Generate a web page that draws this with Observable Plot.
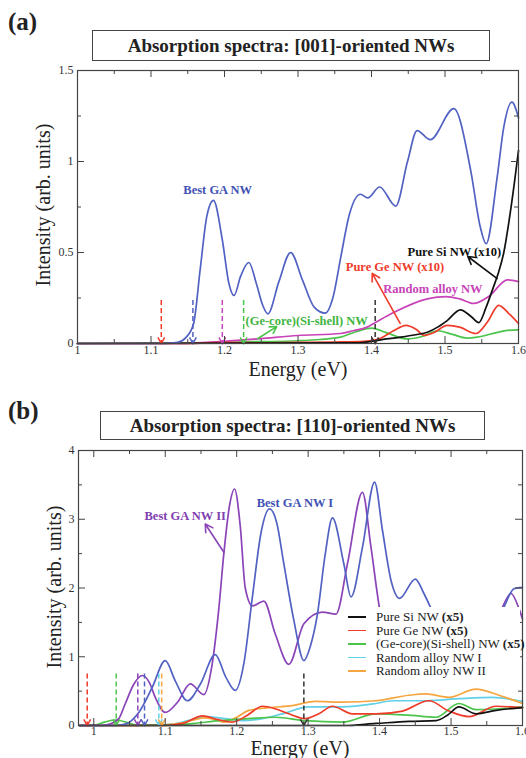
<!DOCTYPE html>
<html><head><meta charset="utf-8">
<script src="https://cdn.jsdelivr.net/npm/d3@7"></script>
<script src="https://cdn.jsdelivr.net/npm/@observablehq/plot@0.6"></script>
<style>
html,body{margin:0;padding:0;background:#fff;}
#root{position:relative;width:526px;height:758px;overflow:hidden;font-family:"Liberation Serif","Times New Roman",serif;color:#222;}
.abs{position:absolute;}
.abs svg{display:block;}
.plabel{font-weight:bold;font-size:25px;line-height:1;}
.tbox{border:1.5px solid #444;font-weight:bold;font-size:19px;box-sizing:border-box;display:flex;align-items:center;justify-content:center;white-space:nowrap;}
.xt{font-size:20px;line-height:1;transform:translate(-50%,-50%);white-space:nowrap;}
.yt{font-size:20px;line-height:1;transform:translate(-50%,-50%) rotate(-90deg);white-space:nowrap;}
.legend{background:#fff;font-size:13px;line-height:13.5px;padding-top:3px;box-sizing:border-box;}
.legend .row{position:relative;height:13.5px;white-space:nowrap;}
.legend .sw{position:absolute;left:3px;top:6px;width:18px;height:1.5px;}
.legend .tx{position:absolute;left:31px;top:0;}
</style></head>
<body><div id="root">
  <div class="abs plabel" style="left:8px;top:9px">(a)</div>
  <div class="abs tbox" style="left:92px;top:30px;width:398px;height:31px">Absorption spectra: [001]-oriented NWs</div>
  <div class="abs" id="panelA" style="left:0;top:50px"></div>
  <div class="abs xt" style="left:298px;top:369px">Energy (eV)</div>
  <div class="abs yt" style="left:43px;top:205px">Intensity (arb. units)</div>

  <div class="abs plabel" style="left:8px;top:398px">(b)</div>
  <div class="abs tbox" style="left:100px;top:411px;width:385px;height:29px">Absorption spectra: [110]-oriented NWs</div>
  <div class="abs" id="panelB" style="left:0;top:440px"></div>
  <div class="abs xt" style="left:300px;top:748px">Energy (eV)</div>
  <div class="abs yt" style="left:54px;top:587px">Intensity (arb. units)</div>
  <div class="abs legend" id="legendB" style="left:345px;top:607px;width:175px;height:76px"></div>
</div>
<script>
// ================= Panel (a): [001]-oriented NWs =================
const aXTicks = [1, 1.1, 1.2, 1.3, 1.4, 1.5, 1.6];
const aXMinor = [1.05, 1.15, 1.25, 1.35, 1.45, 1.55];
const aYTicks = [0, 0.5, 1, 1.5];
const aYMinor = [0.25, 0.75, 1.25];

const aBestGA = [[1.0,0],[1.12,0],[1.136,0.006],[1.148,0.035],[1.158,0.11],[1.167,0.41],[1.176,0.70],[1.185,0.786],[1.197,0.57],[1.206,0.33],[1.213,0.264],[1.222,0.37],[1.233,0.445],[1.244,0.32],[1.252,0.21],[1.259,0.163],[1.274,0.34],[1.290,0.50],[1.306,0.35],[1.322,0.2],[1.337,0.167],[1.348,0.26],[1.358,0.47],[1.370,0.71],[1.385,0.82],[1.395,0.80],[1.411,0.86],[1.433,0.755],[1.449,1.0],[1.462,1.17],[1.480,1.12],[1.512,1.29],[1.535,0.95],[1.548,0.64],[1.556,0.548],[1.571,0.914],[1.580,1.19],[1.591,1.326],[1.6,1.24]];
const aPureSi = [[1.0,0],[1.38,0.003],[1.40,0.012],[1.42,0.025],[1.44,0.035],[1.46,0.048],[1.476,0.062],[1.49,0.09],[1.503,0.126],[1.521,0.185],[1.535,0.15],[1.546,0.115],[1.556,0.2],[1.565,0.3],[1.572,0.38],[1.58,0.5],[1.587,0.67],[1.594,0.87],[1.6,1.06]];
const aPureGe = [[1.0,0],[1.15,0],[1.2,0.006],[1.25,0.004],[1.3,0.006],[1.35,0.008],[1.39,0.012],[1.41,0.025],[1.43,0.07],[1.447,0.10],[1.46,0.08],[1.472,0.045],[1.485,0.06],[1.503,0.10],[1.52,0.09],[1.542,0.055],[1.558,0.12],[1.573,0.21],[1.588,0.16],[1.6,0.11]];
const aRandom = [[1.0,0],[1.14,0],[1.17,0.005],[1.2,0.012],[1.249,0.027],[1.3,0.044],[1.358,0.055],[1.375,0.07],[1.394,0.09],[1.403,0.11],[1.43,0.17],[1.476,0.245],[1.501,0.258],[1.52,0.245],[1.539,0.22],[1.56,0.26],[1.585,0.35],[1.6,0.34]];
const aCoreShell = [[1.0,0],[1.2,0.004],[1.24,0.01],[1.267,0.011],[1.3,0.015],[1.33,0.022],[1.358,0.035],[1.38,0.066],[1.40,0.085],[1.42,0.06],[1.449,0.025],[1.47,0.04],[1.49,0.07],[1.51,0.05],[1.53,0.03],[1.544,0.035],[1.57,0.06],[1.585,0.072],[1.6,0.075]];

const aDropE = [1.114, 1.157, 1.197, 1.226, 1.405];
const aDropTop = 0.236;
const aLabelText = ["Best GA NW", "(Ge-core)(Si-shell) NW", "Random alloy NW", "Pure Ge NW (x10)", "Pure Si NW (x10)"];
const aLabelX = [1.144, 1.2286, 1.416, 1.365, 1.449];
const aLabelY = [0.841, 0.126, 0.302, 0.423, 0.505];
const aPointerFrom = [[1.245, 0.026], [1.439, 0.11], [1.571, 0.357]];
const aPointerTo = [[1.271, 0.093], [1.401, 0.385], [1.531, 0.478]];

// ================= Panel (b): [110]-oriented NWs =================
const bXTicks = [1, 1.1, 1.2, 1.3, 1.4, 1.5, 1.6];
const bXMinor = [1.05, 1.15, 1.25, 1.35, 1.45, 1.55];
const bYTicks = [0, 1, 2, 3, 4];
const bYMinor = [0.5, 1.5, 2.5, 3.5];

const bBestGA1 = [[0.98,0],[1.03,0],[1.044,0.02],[1.063,0.19],[1.082,0.56],[1.1,0.945],[1.114,0.65],[1.131,0.36],[1.149,0.6],[1.170,1.03],[1.185,0.7],[1.198,0.51],[1.21,0.9],[1.222,1.87],[1.234,2.8],[1.246,3.15],[1.256,2.95],[1.266,2.35],[1.28,1.53],[1.294,0.945],[1.303,1.15],[1.313,1.62],[1.324,2.5],[1.334,3.02],[1.35,2.35],[1.36,1.87],[1.376,2.59],[1.393,3.54],[1.404,2.84],[1.416,2.11],[1.428,1.85],[1.45,2.13],[1.462,1.92],[1.472,1.70],[1.49,1.2],[1.52,1.0],[1.55,1.2],[1.574,1.72],[1.588,1.99],[1.6,2.01]];
const bBestGA2 = [[0.98,0],[1.01,0],[1.022,0.02],[1.035,0.1],[1.044,0.316],[1.056,0.6],[1.068,0.727],[1.078,0.62],[1.086,0.41],[1.1,0.19],[1.118,0.35],[1.135,0.606],[1.154,0.45],[1.165,0.85],[1.175,1.7],[1.182,2.5],[1.19,3.2],[1.197,3.44],[1.205,2.9],[1.212,2.0],[1.222,1.74],[1.238,1.81],[1.254,1.33],[1.273,0.89],[1.294,1.48],[1.32,1.65],[1.339,1.62],[1.355,2.35],[1.376,3.39],[1.388,2.59],[1.40,1.70],[1.42,1.1],[1.46,0.9],[1.52,1.0],[1.56,1.4],[1.572,1.72],[1.584,1.92],[1.595,1.70],[1.6,1.55]];
const bPureSi = [[0.98,0],[1.35,0],[1.395,0.03],[1.441,0.06],[1.479,0.07],[1.495,0.15],[1.511,0.27],[1.535,0.17],[1.563,0.22],[1.6,0.26]];
const bPureGe = [[0.98,0],[1.1,0],[1.125,0.03],[1.152,0.14],[1.172,0.09],[1.194,0.05],[1.215,0.15],[1.236,0.28],[1.255,0.24],[1.273,0.17],[1.296,0.1],[1.315,0.17],[1.334,0.28],[1.362,0.17],[1.395,0.17],[1.432,0.21],[1.469,0.36],[1.497,0.21],[1.525,0.13],[1.563,0.28],[1.6,0.26]];
const bCoreShell = [[0.98,0],[1.0,0.005],[1.015,0.05],[1.03,0.08],[1.045,0.05],[1.058,0.01],[1.1,0.005],[1.14,0.03],[1.175,0.07],[1.217,0.1],[1.254,0.12],[1.296,0.07],[1.348,0.05],[1.395,0.17],[1.441,0.15],[1.479,0.12],[1.511,0.32],[1.535,0.23],[1.6,0.27]];
const bRandom1 = [[0.98,0],[1.08,0],[1.11,0.02],[1.135,0.08],[1.156,0.13],[1.184,0.1],[1.208,0.07],[1.236,0.1],[1.264,0.17],[1.301,0.27],[1.348,0.27],[1.395,0.32],[1.418,0.36],[1.465,0.36],[1.511,0.39],[1.558,0.41],[1.6,0.35]];
const bRandom2 = [[0.98,0],[1.05,0],[1.08,0.005],[1.1,0.01],[1.12,0.03],[1.14,0.08],[1.155,0.11],[1.168,0.09],[1.182,0.05],[1.2,0.12],[1.217,0.22],[1.245,0.26],[1.278,0.29],[1.31,0.35],[1.348,0.34],[1.395,0.36],[1.441,0.44],[1.465,0.46],[1.497,0.41],[1.535,0.53],[1.567,0.44],[1.6,0.32]];

const bDropE = [0.9908, 1.0314, 1.0616, 1.071, 1.091, 1.095, 1.294];
const bDropTop = 0.75;
const bLabelText = ["Best GA NW II", "Best GA NW I"];
const bLabelX = [1.071, 1.228];
const bLabelY = [3.05, 3.24];
const bPointerFrom = [[1.182, 2.52]];
const bPointerTo = [[1.156, 2.93]];
const bLegendNames = ["Pure Si NW", "Pure Ge NW", "(Ge-core)(Si-shell) NW", "Random alloy NW I", "Random alloy NW II"];
const bLegendSuffix = ["(x5)", "(x5)", "(x5)", "", ""];

// ================= Styles =================
const C = {blue: "#5262c2", black: "#111", red: "#f03a2a", magenta: "#c843b8", green: "#4cc44c", purple: "#8a44b8", cyan: "#62d0e6", orange: "#f5a640", blueTxt: "#4152b4", purpleTxt: "#7f3fb0", greenTxt: "#3fb43f"};

const vHead = {draw(ctx, size) { const r = Math.sqrt(size / Math.PI); ctx.moveTo(-r, -1.8 * r); ctx.lineTo(0, 0); ctx.lineTo(r, -1.8 * r); }};

function buildPanel(cfg) {
  const W = 526;
  const pw = W - cfg.ml - cfg.mr, ph = cfg.height - cfg.mt - cfg.mb;
  const M = 7, m = 4, tc = "#444";
  const marks = [];
  for (const s of cfg.series) {
    marks.push(Plot.line(s.data, {x: d => d[0], y: d => d[1], stroke: s.color, strokeWidth: 1.7, curve: "monotone-x"}));
  }
  cfg.dropE.forEach((e, i) => {
    const c = cfg.dropColors[i];
    marks.push(Plot.ruleX([e], {x: d => d, y1: cfg.dropTop, y2: 0, stroke: c, strokeWidth: 1.5, strokeDasharray: "5,3"}));
    marks.push(Plot.dot([e], {x: d => d, y: 0, symbol: vHead, r: 3.4, stroke: c, fill: "none", strokeWidth: 1.5}));
  });
  cfg.pFrom.forEach((p, i) => {
    const q = cfg.pTo[i];
    marks.push(Plot.arrow([0], {x1: () => p[0], y1: () => p[1], x2: () => q[0], y2: () => q[1], stroke: cfg.pColors[i], strokeWidth: 1.6, headLength: 8}));
  });
  cfg.labelText.forEach((t, i) => {
    marks.push(Plot.text([t], {x: () => cfg.labelX[i], y: () => cfg.labelY[i], text: d => d, fill: cfg.labelColors[i], fontWeight: "bold", fontSize: 12.5, textAnchor: "start"}));
  });
  // inward ticks on all four sides
  marks.push(Plot.ruleX(cfg.xTicks, {x: d => d, insetTop: ph - M, stroke: tc}));
  marks.push(Plot.ruleX(cfg.xMinor, {x: d => d, insetTop: ph - m, stroke: tc}));
  marks.push(Plot.ruleX(cfg.xTicks, {x: d => d, insetBottom: ph - M, stroke: tc}));
  marks.push(Plot.ruleX(cfg.xMinor, {x: d => d, insetBottom: ph - m, stroke: tc}));
  marks.push(Plot.ruleY(cfg.yTicks, {y: d => d, insetRight: pw - M, stroke: tc}));
  marks.push(Plot.ruleY(cfg.yMinor, {y: d => d, insetRight: pw - m, stroke: tc}));
  marks.push(Plot.ruleY(cfg.yTicks, {y: d => d, insetLeft: pw - M, stroke: tc}));
  marks.push(Plot.ruleY(cfg.yMinor, {y: d => d, insetLeft: pw - m, stroke: tc}));
  marks.push(Plot.frame({stroke: tc, strokeWidth: 1.2}));
  marks.push(Plot.axisX(cfg.xTicks, {anchor: "bottom", tickSize: 0, tickPadding: cfg.xPad, tickFormat: d => String(d), label: null, fontSize: 12, fill: "#333"}));
  marks.push(Plot.axisY(cfg.yTicks, {anchor: "left", tickSize: 0, tickPadding: 4, tickFormat: d => String(d), label: null, fontSize: 12, fill: "#333"}));
  return Plot.plot({
    width: W, height: cfg.height,
    marginTop: cfg.mt, marginBottom: cfg.mb, marginLeft: cfg.ml, marginRight: cfg.mr,
    x: {domain: cfg.xDomain}, y: {domain: cfg.yDomain},
    style: {fontFamily: "'Liberation Serif','Times New Roman',serif", fontSize: "12px", background: "transparent", color: "#333"},
    marks
  });
}

document.getElementById("panelA").appendChild(buildPanel({
  height: 330, mt: 20, mb: 37, ml: 77, mr: 8, xPad: 2,
  xDomain: [1, 1.6], yDomain: [0, 1.5],
  xTicks: aXTicks, xMinor: aXMinor, yTicks: aYTicks, yMinor: aYMinor,
  series: [
    {data: aCoreShell, color: C.green},
    {data: aRandom, color: C.magenta},
    {data: aPureGe, color: C.red},
    {data: aPureSi, color: C.black},
    {data: aBestGA, color: C.blue}
  ],
  dropE: aDropE, dropTop: aDropTop, dropColors: [C.red, C.blue, C.magenta, C.green, "#333"],
  pFrom: aPointerFrom, pTo: aPointerTo, pColors: [C.green, C.red, "#111"],
  labelText: aLabelText, labelX: aLabelX, labelY: aLabelY,
  labelColors: [C.blueTxt, C.greenTxt, C.magenta, C.red, "#111"]
}));

document.getElementById("panelB").appendChild(buildPanel({
  height: 318, mt: 10, mb: 33, ml: 78, mr: 4, xPad: 1,
  xDomain: [0.9786, 1.6], yDomain: [0, 4],
  xTicks: bXTicks, xMinor: bXMinor, yTicks: bYTicks, yMinor: bYMinor,
  series: [
    {data: bRandom1, color: C.cyan},
    {data: bRandom2, color: C.orange},
    {data: bCoreShell, color: C.green},
    {data: bPureGe, color: C.red},
    {data: bPureSi, color: C.black},
    {data: bBestGA2, color: C.purple},
    {data: bBestGA1, color: C.blue}
  ],
  dropE: bDropE, dropTop: bDropTop, dropColors: [C.red, C.green, C.purple, C.blue, C.cyan, C.orange, "#333"],
  pFrom: bPointerFrom, pTo: bPointerTo, pColors: [C.purple],
  labelText: bLabelText, labelX: bLabelX, labelY: bLabelY,
  labelColors: [C.purpleTxt, C.blueTxt]
}));

// legend for panel (b)
const legendColors = [C.black, C.red, C.green, C.cyan, C.orange];
const lg = document.getElementById("legendB");
bLegendNames.forEach((name, i) => {
  const row = document.createElement("div");
  row.className = "row";
  const sw = document.createElement("div");
  sw.className = "sw"; sw.style.background = legendColors[i];
  const tx = document.createElement("div");
  tx.className = "tx";
  tx.textContent = name + (bLegendSuffix[i] ? " " : "");
  if (bLegendSuffix[i]) { const b = document.createElement("b"); b.textContent = bLegendSuffix[i]; tx.appendChild(b); }
  row.appendChild(sw); row.appendChild(tx);
  lg.appendChild(row);
});
</script>
</body></html>
